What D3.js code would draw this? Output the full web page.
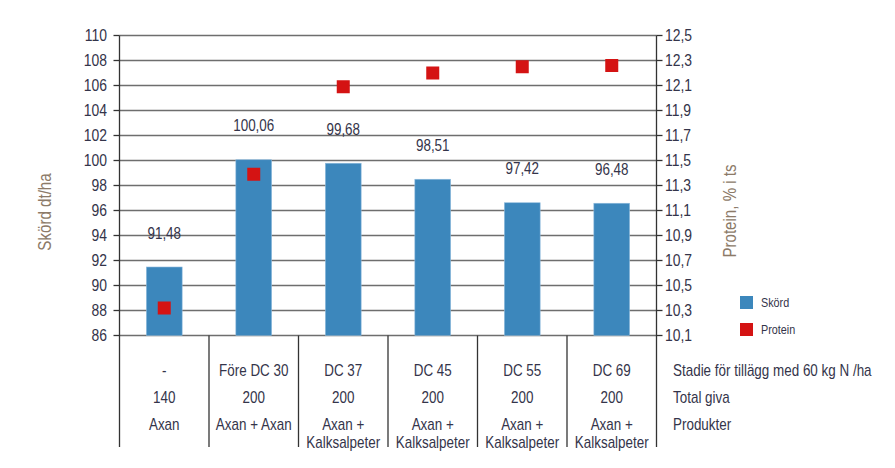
<!DOCTYPE html>
<html><head><meta charset="utf-8">
<script src="https://cdn.jsdelivr.net/npm/d3@7"></script>
<style>
html,body{margin:0;padding:0;background:#fff;}
svg{display:block;}
text{font-family:"Liberation Sans",Arial,sans-serif;}
</style></head>
<body>
<svg id="c" width="895" height="468"></svg>
<script>
// Data
const stages = ["-", "Före DC 30", "DC 37", "DC 45", "DC 55", "DC 69"];
const totalGiva = ["140", "200", "200", "200", "200", "200"];
const produkter = [["Axan"], ["Axan + Axan"], ["Axan +", "Kalksalpeter"], ["Axan +", "Kalksalpeter"], ["Axan +", "Kalksalpeter"], ["Axan +", "Kalksalpeter"]];
const skordBars = [91.48, 100.06, 99.78, 98.5, 96.62, 96.58];
const skordLabels = ["91,48", "100,06", "99,68", "98,51", "97,42", "96,48"];
const protein = [10.32, 11.39, 12.09, 12.2, 12.25, 12.26];
const leftTicks = [86, 88, 90, 92, 94, 96, 98, 100, 102, 104, 106, 108, 110];
const rightTicks = [10.1, 10.3, 10.5, 10.7, 10.9, 11.1, 11.3, 11.5, 11.7, 11.9, 12.1, 12.3, 12.5];
const rowLabels = ["Stadie för tillägg med 60 kg N /ha", "Total giva", "Produkter"];

const svg = d3.select("#c");
const textCol = "#34344a";
const titleCol = "#8c7a68";
const gridCol = "#6e6e6e";
const barCol = "#3c87bc";
const redCol = "#d41313";
const SX = 0.84;

// condensed text helper
function ctext(g, tx, ty, str, o) {
  o = o || {};
  const rot = o.rotate ? ` rotate(${o.rotate})` : "";
  return g.append("text")
    .attr("transform", `translate(${tx},${ty})${rot} scale(${o.sx || SX},1)`)
    .attr("text-anchor", o.anchor || "middle")
    .attr("dy", "0.35em")
    .attr("font-size", o.size || 16)
    .attr("fill", o.fill || textCol)
    .text(str);
}

const x0 = 119.5, x1 = 656.5, yTop = 35.5, yBot = 335.5;
const x = d3.scaleBand().domain(stages).range([x0, x1]);
const yL = d3.scaleLinear().domain([86, 110]).range([yBot, yTop]);
const yR = d3.scaleLinear().domain([10.1, 12.5]).range([yBot, yTop]);

// gridlines
svg.append("g").selectAll("line").data(leftTicks).join("line")
  .attr("x1", x0).attr("x2", x1)
  .attr("y1", d => yL(d)).attr("y2", d => yL(d))
  .attr("stroke", gridCol).attr("stroke-width", 1.3);

// bars
const bw = x.bandwidth();
svg.append("g").selectAll("rect").data(skordBars).join("rect")
  .attr("x", (d, i) => x(stages[i]) + bw * 0.3)
  .attr("width", bw * 0.4)
  .attr("y", d => yL(d))
  .attr("height", d => yBot - yL(d))
  .attr("fill", barCol)
  .attr("stroke", "#8fbbdd").attr("stroke-width", 0.6);

// value labels
const vg = svg.append("g");
skordLabels.forEach((d, i) => {
  ctext(vg, x(stages[i]) + bw / 2, yL(skordBars[i]) - 34, d, {size: 16});
});

// protein markers
const ms = 13;
svg.append("g").selectAll("rect").data(protein).join("rect")
  .attr("x", (d, i) => x(stages[i]) + bw / 2 - ms / 2)
  .attr("y", d => yR(d) - ms / 2)
  .attr("width", ms).attr("height", ms)
  .attr("fill", redCol);

// left axis ticks
const ag = svg.append("g");
ag.selectAll("line.l").data(leftTicks).join("line").attr("class", "l")
  .attr("x1", x0 - 6).attr("x2", x0).attr("y1", d => yL(d)).attr("y2", d => yL(d))
  .attr("stroke", "#333").attr("stroke-width", 1.3);
leftTicks.forEach(t => ctext(ag, 107, yL(t), String(t), {anchor: "end", size: 17, sx: 0.82}));

// right axis ticks
const fmtR = d => d.toFixed(1).replace(".", ",");
ag.selectAll("line.r").data(rightTicks).join("line").attr("class", "r")
  .attr("x1", x1).attr("x2", x1 + 6).attr("y1", d => yR(d)).attr("y2", d => yR(d))
  .attr("stroke", "#333").attr("stroke-width", 1.3);
rightTicks.forEach(t => ctext(ag, 665, yR(t), fmtR(t), {anchor: "start", size: 17, sx: 0.82}));

// axis vertical lines (extend into table)
const tableBot = 447;
svg.append("g").selectAll("line").data(stages.map((s) => x(s)).concat([x1])).join("line")
  .attr("x1", d => d).attr("x2", d => d)
  .attr("y1", (d, i) => (i === 0 || i === stages.length) ? yTop : yBot)
  .attr("y2", tableBot)
  .attr("stroke", "#333").attr("stroke-width", 1.3);

// table text
const rowY = [370, 397, 424, 442];
const tg = svg.append("g");
stages.forEach((s, i) => {
  const cx = x(s) + bw / 2;
  ctext(tg, cx, rowY[0], s);
  ctext(tg, cx, rowY[1], totalGiva[i]);
  produkter[i].forEach((p, j) => ctext(tg, cx, j === 0 ? rowY[2] : rowY[3], p));
});
rowLabels.forEach((r, i) => ctext(svg, 673, rowY[i], r, {anchor: "start"}));

// axis titles
ctext(svg, 45, 212, "Skörd dt/ha", {rotate: -90, size: 18, fill: titleCol});
ctext(svg, 730, 211, "Protein, % i ts", {rotate: -90, size: 18, fill: titleCol});

// legend
const legend = [{name: "Skörd", color: barCol, y: 302.5}, {name: "Protein", color: redCol, y: 329.5}];
const lg = svg.append("g");
legend.forEach(l => {
  lg.append("rect").attr("x", 740).attr("y", l.y - 6.5).attr("width", 13).attr("height", 13).attr("fill", l.color);
  ctext(lg, 761, l.y, l.name, {anchor: "start", size: 13.5, sx: 0.8});
});
</script>
</body></html>
